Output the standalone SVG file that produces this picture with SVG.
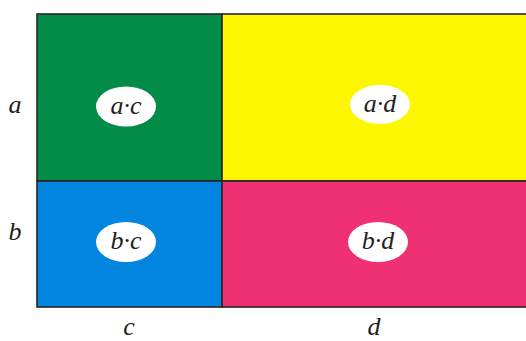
<svg xmlns="http://www.w3.org/2000/svg" width="526" height="341" viewBox="0 0 526 341">
<style>
.cell{stroke:#2b2424;stroke-width:1.6}
.oval{fill:#ffffff}
.t{font-family:"Liberation Serif",serif;font-style:italic;font-size:26px;fill:#231f20;text-anchor:middle}
</style>
<rect width="526" height="341" fill="#ffffff"/>
<g id="ac"><rect class="cell" x="37" y="14" width="185" height="167" fill="#028c48"/><ellipse class="oval" cx="126" cy="106.5" rx="30" ry="20"/><text class="t" x="126" y="113.5">a·c</text></g>
<g id="ad"><rect class="cell" x="222" y="14" width="310" height="167" fill="#fcf700"/><ellipse class="oval" cx="380" cy="104.5" rx="30" ry="19.5"/><text class="t" x="380" y="111.5">a·d</text></g>
<g id="bc"><rect class="cell" x="37" y="181" width="185" height="126" fill="#0285de"/><ellipse class="oval" cx="126" cy="242" rx="30" ry="20"/><text class="t" x="126" y="249">b·c</text></g>
<g id="bd"><rect class="cell" x="222" y="181" width="310" height="126" fill="#ef3173"/><ellipse class="oval" cx="378" cy="242" rx="30" ry="20"/><text class="t" x="378" y="249">b·d</text></g>
<g id="labels">
<text class="t" x="15" y="113">a</text>
<text class="t" x="15" y="240">b</text>
<text class="t" x="129" y="335">c</text>
<text class="t" x="374" y="335">d</text>
</g>
</svg>
